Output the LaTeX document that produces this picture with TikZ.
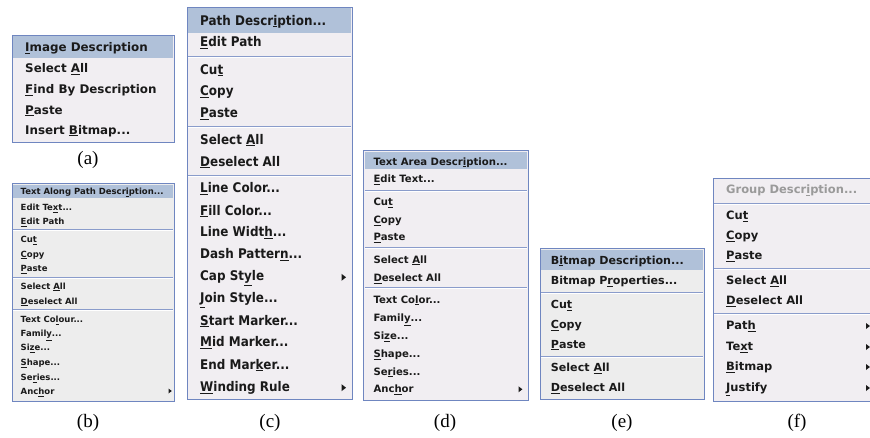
\documentclass[tikz,border=0pt]{standalone}
\usepackage{fontspec}
\newfontfamily\mfont{DejaVu Sans}
\newfontfamily\mfontc[FakeStretch=0.9]{DejaVu Sans}
\newfontfamily\capfont{Liberation Serif}
\definecolor{mbg}{HTML}{F1EEF2}
\definecolor{mbgb}{HTML}{EDEDED}
\definecolor{mborder}{HTML}{6F86C0}
\definecolor{hlc}{HTML}{B0C1D9}
\definecolor{sepc}{HTML}{8A9CCB}
\definecolor{txt}{HTML}{1A1A1A}
\definecolor{dis}{HTML}{9A9A9A}
\newcommand\mn[1]{\underline{#1}}
\newcommand\subarrow[3]{\fill[txt] (#1,#2-#3) -- (#1+#3*1.3,#2) -- (#1,#2+#3) -- cycle;}
\begin{document}
\begin{tikzpicture}[x=1pt,y=-1pt,
  frame/.style={draw=mborder, line width=1pt, fill=mbg},
  hl/.style={fill=hlc},
  sepl/.style={draw=sepc, line width=0.8pt},
  sepw/.style={draw=white, line width=0.8pt},
  it/.style={anchor=west, inner sep=0pt, text height=0.9em, text depth=0.18em, text=txt},
  fa/.style={it, font=\mfont\bfseries\fontsize{11.9}{14}\selectfont},
  fb/.style={it, font=\mfont\bfseries\fontsize{8.5}{10}\selectfont},
  fc/.style={it, font=\mfontc\bfseries\fontsize{13.3}{16}\selectfont},
  fd/.style={it, font=\mfont\bfseries\fontsize{10.1}{12}\selectfont},
  fe/.style={it, font=\mfont\bfseries\fontsize{11.1}{13}\selectfont},
  ff/.style={it, font=\mfont\bfseries\fontsize{11.5}{13}\selectfont},
  captxt/.style={inner sep=0pt, font=\capfont\fontsize{19}{22}\selectfont}]
\useasboundingbox (0,0) rectangle (870,438);
\clip (0,0) rectangle (870,438);
\fill[white] (0,0) rectangle (870,438);

% ---------- (a)
\draw[frame] (12,35.5) rectangle (174,143);
\fill[hl] (13,36.5) rectangle (173,58.5);
\node[fa] (a0) at (25,48) {\mn{I}mage Description};
\node[fa] (a1) at (25,69) {Select \mn{A}ll};
\node[fa] (a2) at (25,90) {\mn{F}ind By Description};
\node[fa] (a3) at (25,110.5) {\mn{P}aste};
\node[fa] (a4) at (25,130.5) {Insert \mn{B}itmap...};
\node[captxt] (ca) at (88,160) {(a)};

% ---------- (b)
\draw[frame, fill=mbgb] (12,184) rectangle (174,401);
\fill[hl] (13,185) rectangle (173,198);
\foreach \y in {229.5,277,309.5}{\draw[sepl] (13,\y) -- (173,\y); \draw[sepw] (13,\y+1) -- (173,\y+1);}
\node[fb] (b0) at (20.5,191) {Text Along Path Descr\mn{i}ption...};
\node[fb] (b1) at (20.5,207) {Edit Te\mn{x}t...};
\node[fb] (b2) at (20.5,221) {\mn{E}dit Path};
\node[fb] (b3) at (20.5,239) {Cu\mn{t}};
\node[fb] (b4) at (20.5,253.5) {\mn{C}opy};
\node[fb] (b5) at (20.5,268) {\mn{P}aste};
\node[fb] (b6) at (20.5,285.7) {Select \mn{A}ll};
\node[fb] (b7) at (20.5,300.5) {\mn{D}eselect All};
\node[fb] (b8) at (20.5,319) {Text Co\mn{l}our...};
\node[fb] (b9) at (20.5,333.3) {Famil\mn{y}...};
\node[fb] (b10) at (20.5,347.3) {Si\mn{z}e...};
\node[fb] (b11) at (20.5,361.7) {\mn{S}hape...};
\node[fb] (b12) at (20.5,376.7) {Se\mn{r}ies...};
\node[fb] (b13) at (20.5,391) {Anc\mn{h}or};
\subarrow{168.5}{391}{2.5}
\node[captxt] (cb) at (88,423) {(b)};

% ---------- (c)
\draw[frame] (187.3,7.5) rectangle (352.3,399.5);
\fill[hl] (188.3,8.5) rectangle (351.3,33);
\foreach \y in {56,126.7,175}{\draw[sepl] (188.3,\y) -- (351.3,\y); \draw[sepw] (188.3,\y+1) -- (351.3,\y+1);}
\node[fc] (c0) at (200,21.5) {Path Descr\mn{i}ption...};
\node[fc] (c1) at (200,43.3) {\mn{E}dit Path};
\node[fc] (c2) at (200,70.7) {Cu\mn{t}};
\node[fc] (c3) at (200,92.3) {\mn{C}opy};
\node[fc] (c4) at (200,114) {\mn{P}aste};
\node[fc] (c5) at (200,140.7) {Select \mn{A}ll};
\node[fc] (c6) at (200,162.7) {\mn{D}eselect All};
\node[fc] (c7) at (200,189.3) {\mn{L}ine Color...};
\node[fc] (c8) at (200,211.5) {\mn{F}ill Color...};
\node[fc] (c9) at (200,233.3) {Line Widt\mn{h}...};
\node[fc] (c10) at (200,255.3) {Dash Patter\mn{n}...};
\node[fc] (c11) at (200,277.3) {Cap St\mn{y}le};
\node[fc] (c12) at (200,299.3) {\mn{J}oin Style...};
\node[fc] (c13) at (200,321.5) {\mn{S}tart Marker...};
\node[fc] (c14) at (200,343.3) {\mn{M}id Marker...};
\node[fc] (c15) at (200,365.5) {End Mar\mn{k}er...};
\node[fc] (c16) at (200,387.7) {\mn{W}inding Rule};
\subarrow{341.5}{277.3}{3.5}
\subarrow{341.5}{387.7}{3.5}
\node[captxt] (cc) at (270,423) {(c)};

% ---------- (d)
\draw[frame] (363.5,151) rectangle (528.3,400);
\fill[hl] (364.5,152) rectangle (527.3,169);
\foreach \y in {190,247.7,287.7}{\draw[sepl] (364.5,\y) -- (527.3,\y); \draw[sepw] (364.5,\y+1) -- (527.3,\y+1);}
\node[fd] (d0) at (373.3,161.5) {Text Area Descr\mn{i}ption...};
\node[fd] (d1) at (373.3,179.3) {\mn{E}dit Text...};
\node[fd] (d2) at (373.3,202.3) {Cu\mn{t}};
\node[fd] (d3) at (373.3,220) {\mn{C}opy};
\node[fd] (d4) at (373.3,237.3) {\mn{P}aste};
\node[fd] (d5) at (373.3,259.7) {Select \mn{A}ll};
\node[fd] (d6) at (373.3,277.7) {\mn{D}eselect All};
\node[fd] (d7) at (373.3,299.5) {Text Co\mn{l}or...};
\node[fd] (d8) at (373.3,317.7) {Famil\mn{y}...};
\node[fd] (d9) at (373.3,335.7) {Si\mn{z}e...};
\node[fd] (d10) at (373.3,353.7) {\mn{S}hape...};
\node[fd] (d11) at (373.3,371.5) {Se\mn{r}ies...};
\node[fd] (d12) at (373.3,389.3) {Anc\mn{h}or};
\subarrow{518.5}{389.3}{3}
\node[captxt] (cd) at (445,423) {(d)};

% ---------- (e)
\draw[frame, fill=mbgb] (540,249) rectangle (704,399);
\fill[hl] (541,250) rectangle (703,270.5);
\foreach \y in {292,356}{\draw[sepl] (541,\y) -- (703,\y); \draw[sepw] (541,\y+1) -- (703,\y+1);}
\node[fe] (e0) at (550.7,260.5) {B\mn{i}tmap Description...};
\node[fe] (e1) at (550.7,281) {Bitmap P\mn{r}operties...};
\node[fe] (e2) at (550.7,305) {Cu\mn{t}};
\node[fe] (e3) at (550.7,325) {\mn{C}opy};
\node[fe] (e4) at (550.7,344.5) {\mn{P}aste};
\node[fe] (e5) at (550.7,368.3) {Select \mn{A}ll};
\node[fe] (e6) at (550.7,387.7) {\mn{D}eselect All};
\node[captxt] (ce) at (622,423) {(e)};

% ---------- (f)
\draw[frame] (713,179) rectangle (890,401);
\foreach \y in {203,268.5,313.5}{\draw[sepl] (714,\y) -- (870,\y); \draw[sepw] (714,\y+1) -- (870,\y+1);}
\node[ff, text=dis] (f0) at (726,190) {Group Descr\mn{i}ption...};
\node[ff] (f1) at (726,216) {Cu\mn{t}};
\node[ff] (f2) at (726,236) {\mn{C}opy};
\node[ff] (f3) at (726,256) {\mn{P}aste};
\node[ff] (f4) at (726,281) {Select \mn{A}ll};
\node[ff] (f5) at (726,301) {\mn{D}eselect All};
\node[ff] (f6) at (726,326) {Pat\mn{h}};
\node[ff] (f7) at (726,347) {Te\mn{x}t};
\node[ff] (f8) at (726,367) {\mn{B}itmap};
\node[ff] (f9) at (726,388) {\mn{J}ustify};
\foreach \y in {326,347,367,388}{\subarrow{866}{\y}{3}}
\node[captxt] (cf) at (797,423) {(f)};
\end{tikzpicture}
\end{document}
